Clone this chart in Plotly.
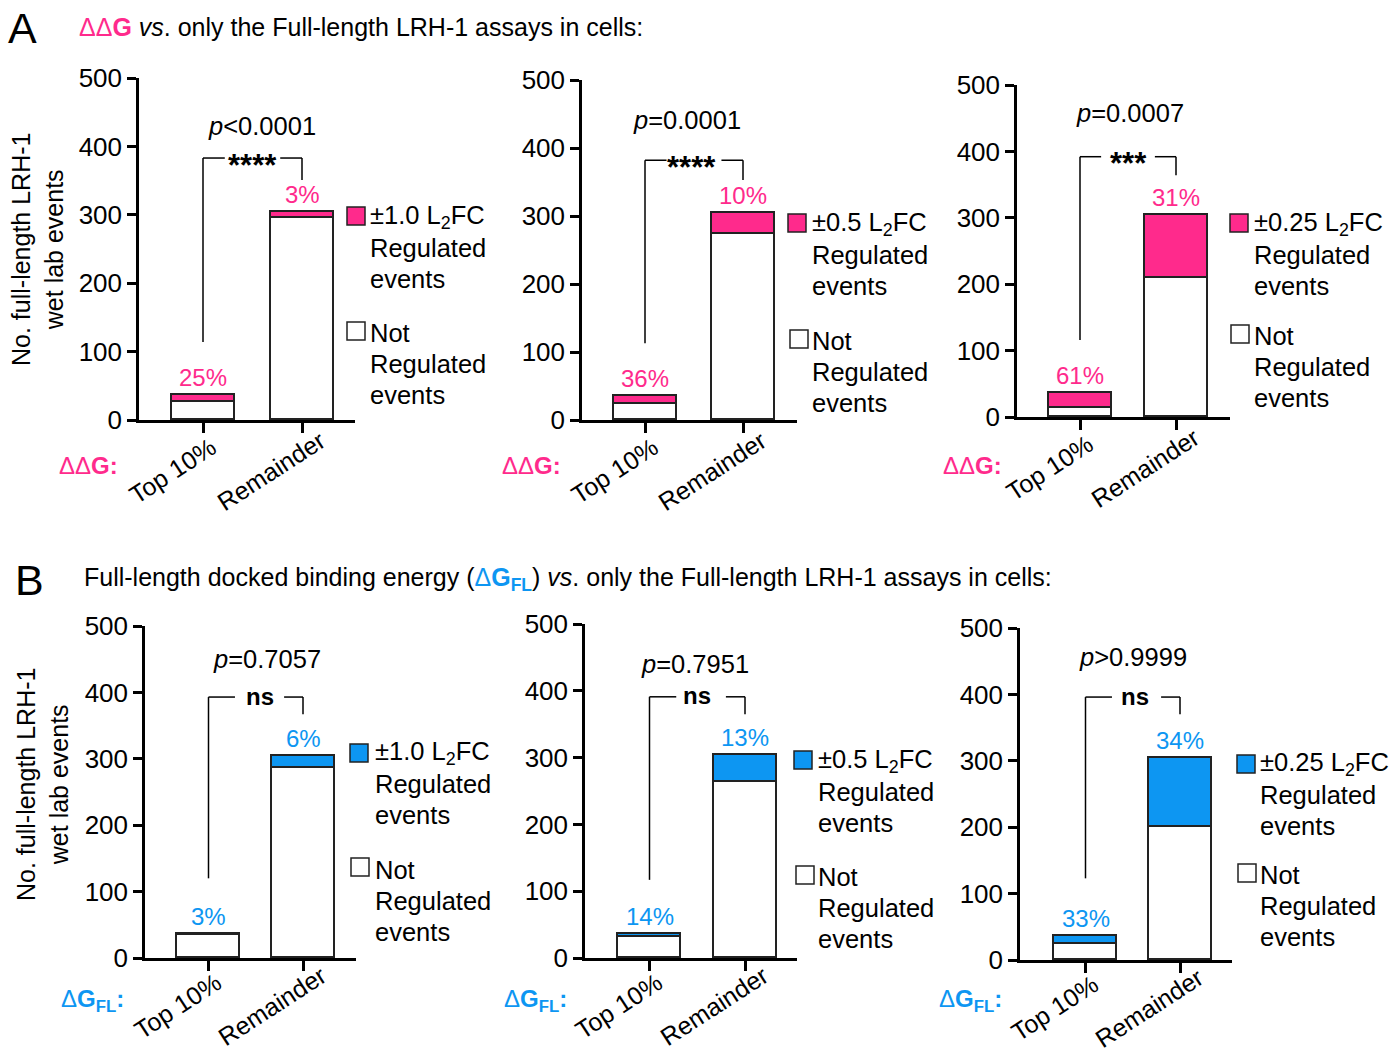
import plotly.graph_objects as go

# ---------------- data ----------------
categories = ["Top 10%", "Remainder"]

# Row A (ΔΔG) : regulated / not regulated counts for each threshold
a_thresholds = ["±1.0 L<sub>2</sub>FC", "±0.5 L<sub>2</sub>FC", "±0.25 L<sub>2</sub>FC"]
a_regulated = [[9, 9], [13, 30], [22, 94]]
a_not_regulated = [[27, 295], [23, 274], [14, 210]]
a_pct_labels = [["25%", "3%"], ["36%", "10%"], ["61%", "31%"]]
a_pvalues = ["<i>p</i>&lt;0.0001", "<i>p</i>=0.0001", "<i>p</i>=0.0007"]
a_sig = ["****", "****", "***"]

# Row B (ΔG_FL)
b_thresholds = ["±1.0 L<sub>2</sub>FC", "±0.5 L<sub>2</sub>FC", "±0.25 L<sub>2</sub>FC"]
b_regulated = [[1, 18], [5, 40], [12, 104]]
b_not_regulated = [[35, 286], [31, 264], [24, 200]]
b_pct_labels = [["3%", "6%"], ["14%", "13%"], ["33%", "34%"]]
b_pvalues = ["<i>p</i>=0.7057", "<i>p</i>=0.7951", "<i>p</i>&gt;0.9999"]
b_sig = ["ns", "ns", "ns"]

y_ticks = [0, 100, 200, 300, 400, 500]

# ---------------- styling ----------------
PINK = "#FF2A8C"
BLUE = "#0D96F2"
FONT = "Liberation Sans, Arial, sans-serif"
W, H = 1389, 1048


def fx(p):
    return p / W


def fy(p):
    return 1 - p / H


# panel geometry (pixels)
panels = [
    dict(yx=139, c1=203, c2=302, xend=355, y0=420, y500=78),
    dict(yx=582, c1=645, c2=743, xend=797, y0=420, y500=80),
    dict(yx=1017, c1=1080, c2=1176, xend=1230, y0=417, y500=85),
    dict(yx=145, c1=208.5, c2=303, xend=356, y0=958, y500=626),
    dict(yx=585, c1=649.5, c2=745, xend=797, y0=958, y500=624),
    dict(yx=1020, c1=1085.5, c2=1180, xend=1232, y0=960, y500=628),
]
bracket_top = [383, 382, 392, 393, 391, 396]
left_bottom = [114, 113, 116, 120, 117, 123]
right_bottom = [351, 353, 364, 367, 365, 370]
p_y = [430, 441, 458, 450, 440, 456]
p_x = [0.6, 0.43, 0.52, 0.62, 0.48, 0.5]
sig_x = [0.5, 0.47, 0.5, 0.54, 0.5, 0.52]

legend_pos = [
    dict(sq1=(347, 207), t1=371, l1=217, sq2=(347, 322), l2=333),
    dict(sq1=(788, 214), t1=813, l1=224, sq2=(790, 330), l2=341),
    dict(sq1=(1230, 214), t1=1255, l1=224, sq2=(1231, 325), l2=336),
    dict(sq1=(350, 744), t1=376, l1=753, sq2=(351, 858), l2=870),
    dict(sq1=(794, 751), t1=819, l1=761, sq2=(796, 866), l2=877),
    dict(sq1=(1237, 755), t1=1261, l1=764, sq2=(1238, 864), l2=875),
]
LEG_STEP = 31
label_pos = [(60, 466), (503, 466), (944, 465), (62, 1000), (505, 1000), (940, 1000)]

regulated = a_regulated + b_regulated
not_regulated = a_not_regulated + b_not_regulated
pct_labels = a_pct_labels + b_pct_labels
pvalues = a_pvalues + b_pvalues
sigs = a_sig + b_sig
thresholds = a_thresholds + b_thresholds

fig = go.Figure()
layout = {}
shapes = []
annotations = []


def paper_text(x, y, text, size, color="black", xanchor="left", **kw):
    annotations.append(dict(x=fx(x), y=fy(y), xref="paper", yref="paper", text=text,
                            showarrow=False, xanchor=xanchor, yanchor="middle",
                            font=dict(size=size, color=color, family=FONT), **kw))


for i, pn in enumerate(panels):
    k = "" if i == 0 else str(i + 1)
    xa, ya = "x" + k, "y" + k
    color = PINK if i < 3 else BLUE
    unit = pn["c2"] - pn["c1"]
    bw = 63 / unit
    xr = [(pn["yx"] - pn["c1"]) / unit, (pn["xend"] - pn["c1"]) / unit]

    layout["xaxis" + k] = dict(
        domain=[fx(pn["yx"]), fx(pn["xend"])], range=xr, anchor=ya, automargin=False,
        tickvals=[0, 1], showticklabels=False,
        ticks="outside", ticklen=10, tickwidth=2.5, tickcolor="black",
        showline=True, linewidth=2.5, linecolor="black",
        showgrid=False, zeroline=False,
    )
    layout["yaxis" + k] = dict(
        domain=[fy(pn["y0"]), fy(pn["y500"])], range=[0, 500], anchor=xa, automargin=False,
        tickvals=y_ticks, ticks="outside", ticklen=9, tickwidth=2.5, tickcolor="black",
        showline=True, linewidth=2.5, linecolor="black",
        showgrid=False, zeroline=False,
        tickfont=dict(size=26, color="black", family=FONT),
    )

    fig.add_trace(go.Bar(x=[0, 1], y=not_regulated[i], width=bw, xaxis=xa, yaxis=ya,
                         marker=dict(color="white", line=dict(color="#222", width=1.8)),
                         showlegend=False))
    fig.add_trace(go.Bar(x=[0, 1], y=regulated[i], width=bw, xaxis=xa, yaxis=ya,
                         marker=dict(color=color, line=dict(color="#222", width=1.8)),
                         showlegend=False))

    for j in range(2):
        # rotated category labels (centre offset from tick, as in the original)
        annotations.append(dict(x=j, y=0, xref=xa, yref=ya, text=categories[j],
                                showarrow=False, textangle=-33, xanchor="center",
                                yanchor="middle", xshift=-31, yshift=(-51 if i < 3 else -48),
                                font=dict(size=25, color="black", family=FONT)))
        # percentage labels
        total = regulated[i][j] + not_regulated[i][j]
        annotations.append(dict(x=j, y=total, xref=xa, yref=ya, text=pct_labels[i][j],
                                showarrow=False, yanchor="bottom", yshift=2,
                                font=dict(size=24, color=color, family=FONT)))

    # significance bracket
    is_ns = sigs[i] == "ns"
    g0, g1 = (0.28, 0.8) if is_ns else (0.22, 0.78)
    ln = dict(color="black", width=1.5)
    bt = bracket_top[i]
    shapes += [
        dict(type="line", xref=xa, yref=ya, x0=0, x1=0, y0=left_bottom[i], y1=bt, line=ln),
        dict(type="line", xref=xa, yref=ya, x0=0, x1=g0, y0=bt, y1=bt, line=ln),
        dict(type="line", xref=xa, yref=ya, x0=g1, x1=1, y0=bt, y1=bt, line=ln),
        dict(type="line", xref=xa, yref=ya, x0=1, x1=1, y0=right_bottom[i], y1=bt, line=ln),
    ]
    annotations.append(dict(x=sig_x[i], y=bt, xref=xa, yref=ya, text="<b>" + sigs[i] + "</b>",
                            showarrow=False, yanchor="middle", yshift=(1 if is_ns else -7),
                            font=dict(size=24 if is_ns else 31, color="black", family=FONT)))
    annotations.append(dict(x=p_x[i], y=p_y[i], xref=xa, yref=ya, text=pvalues[i],
                            showarrow=False, yanchor="middle",
                            font=dict(size=25.5, color="black", family=FONT)))

    # legend
    lp = legend_pos[i]
    for (sx, sy), fill in ((lp["sq1"], color), (lp["sq2"], "white")):
        shapes.append(dict(type="rect", xref="paper", yref="paper",
                           x0=fx(sx), x1=fx(sx + 18), y0=fy(sy + 18), y1=fy(sy),
                           fillcolor=fill, line=dict(color="#222", width=1.5)))
    for n, line in enumerate([thresholds[i], "Regulated", "events"]):
        paper_text(lp["t1"] - 3, lp["l1"] + n * LEG_STEP, line, 25.5)
    for n, line in enumerate(["Not", "Regulated", "events"]):
        paper_text(lp["t1"] - 3, lp["l2"] + n * LEG_STEP, line, 25.5)

    # category axis label
    lx, ly = label_pos[i]
    lab = ("<span style='color:%s'>ΔΔ<b>G:</b></span>" % PINK) if i < 3 else \
          ("<span style='color:%s'>Δ<b>G<sub>FL</sub>:</b></span>" % BLUE)
    paper_text(lx - 3, ly, lab, 24, color)

# y-axis titles
for cx, cy in ((37, 250), (42, 785)):
    paper_text(cx, cy, "No. full-length LRH-1<br>wet lab events", 25, xanchor="center",
               textangle=-90)

# panel letters & titles
paper_text(6, 28, "A", 43)
paper_text(13, 580, "B", 43)
paper_text(77, 27, "<span style='color:%s'>ΔΔ<b>G</b></span> <i>vs</i>. only the Full-length LRH-1 assays in cells:" % PINK, 25)
paper_text(82, 579, "Full-length docked binding energy (<span style='color:%s'>Δ<b>G<sub>FL</sub></b></span>) <i>vs</i>. only the Full-length LRH-1 assays in cells:" % BLUE, 25)

fig.update_layout(**layout)
fig.update_layout(
    template="none",
    width=W, height=H, margin=dict(l=0, r=0, t=0, b=0, autoexpand=False),
    barmode="stack", bargap=0, plot_bgcolor="white", paper_bgcolor="white",
    showlegend=False, shapes=shapes, annotations=annotations,
    font=dict(family=FONT, color="black"),
)

fig.write_html("out.html", config={"displayModeBar": False},
               post_script="document.body.style.margin='0';")
